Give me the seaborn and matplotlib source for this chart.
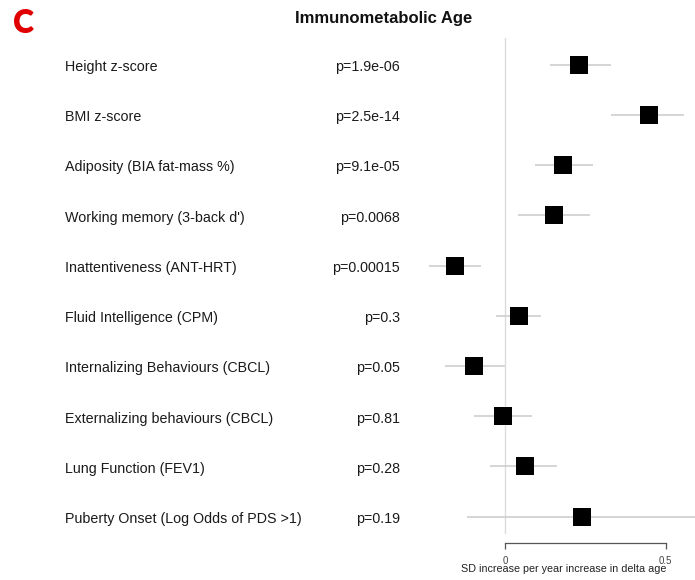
import numpy as np
import pandas as pd
import matplotlib
matplotlib.use("Agg")
import matplotlib.pyplot as plt
import matplotlib.transforms as mtransforms
import seaborn as sns

labels = ["Height z-score", "BMI z-score", "Adiposity (BIA fat-mass %)",
          "Working memory (3-back d')", "Inattentiveness (ANT-HRT)",
          "Fluid Intelligence (CPM)", "Internalizing Behaviours (CBCL)",
          "Externalizing behaviours (CBCL)", "Lung Function (FEV1)",
          "Puberty Onset (Log Odds of PDS >1)"]
pvals = ["p=1.9e-06", "p=2.5e-14", "p=9.1e-05", "p=0.0068", "p=0.00015",
         "p=0.3", "p=0.05", "p=0.81", "p=0.28", "p=0.19"]
estimate = [0.231, 0.449, 0.181, 0.151, -0.157, 0.042, -0.099, -0.008, 0.060, 0.240]
ci_low = [0.139, 0.329, 0.092, 0.040, -0.238, -0.029, -0.188, -0.098, -0.048, -0.120]
ci_high = [0.329, 0.558, 0.272, 0.264, -0.077, 0.112, 0.000, 0.082, 0.162, 0.65]
xticks = [0, 0.5]
xtick_labels = ["0", "0.5"]

df = pd.DataFrame({"label": labels, "est": estimate, "lo": ci_low, "hi": ci_high,
                   "row": np.arange(len(labels))})

sns.set_theme(style="white")
plt.rcParams["font.family"] = ["Liberation Sans", "DejaVu Sans"]

W, H = 695, 580
fig = plt.figure(figsize=(W / 100, H / 100), dpi=100)

# axes geometry in pixels
scale = 320.8          # px per unit
x0_px = 505.3          # px of x=0
left_px, right_px = 420, 695
row0_px, row_step = 64.5, 50.25
top_px, bottom_px = 38, 543

ax = fig.add_axes([left_px / W, 1 - bottom_px / H, (right_px - left_px) / W,
                   (bottom_px - top_px) / H])
ax.set_xlim((left_px - x0_px) / scale, (right_px - x0_px) / scale)
ax.set_ylim((bottom_px - row0_px) / row_step, (top_px - row0_px) / row_step)

# zero reference line
ax.plot([0, 0], [(top_px - row0_px) / row_step, (533 - row0_px) / row_step],
        color="#dcdcdc", lw=1.0, zorder=1, clip_on=False)

ax.hlines(df["row"], df["lo"], df["hi"], color="#d2d2d2", lw=1.3, zorder=2)
sns.scatterplot(data=df, x="est", y="row", marker="s", s=150, color="black",
                edgecolor="black", linewidth=0, ax=ax, zorder=3, legend=False)

ax.set_xlabel("")
ax.set_ylabel("")
ax.set_yticks([])
ax.set_xticks(xticks)
ax.set_xticklabels(xtick_labels, fontsize=7, color="#444444")
ax.tick_params(axis="x", direction="out", length=4, width=0.9, color="#555555",
               pad=5, bottom=True)
for s in ["left", "top", "right"]:
    ax.spines[s].set_visible(False)
ax.spines["bottom"].set_bounds(0, 0.5)
ax.spines["bottom"].set_color("#555555")
ax.spines["bottom"].set_linewidth(0.9)
ax.set_facecolor("none")

trans = mtransforms.blended_transform_factory(fig.transFigure, ax.transData)
trans = trans + mtransforms.ScaledTranslation(0, -6.5 / 100, fig.dpi_scale_trans)
for i, (lab, p) in enumerate(zip(labels, pvals)):
    ax.text(65 / W, i, lab, transform=trans, ha="left", va="baseline",
            fontsize=10.25, color="#1a1a1a", clip_on=False)
    ax.text(400 / W, i, p, transform=trans, ha="right", va="baseline",
            fontsize=10.25, color="#1a1a1a", clip_on=False)

fig.text(384 / W, 1 - 19 / H, "Immunometabolic Age", ha="center", va="center",
         fontsize=12, fontweight="bold", color="#111111")
fig.text(13 / W, 1 - 33 / H, "C", ha="left", va="baseline", fontsize=23,
         fontweight="heavy", color="#e00000", family=["Lato", "DejaVu Sans"])
fig.text(564 / W, 1 - 569 / H, "SD increase per year increase in delta age",
         ha="center", va="center", fontsize=7.75, color="#222222")

fig.savefig("out.png", dpi=100)
